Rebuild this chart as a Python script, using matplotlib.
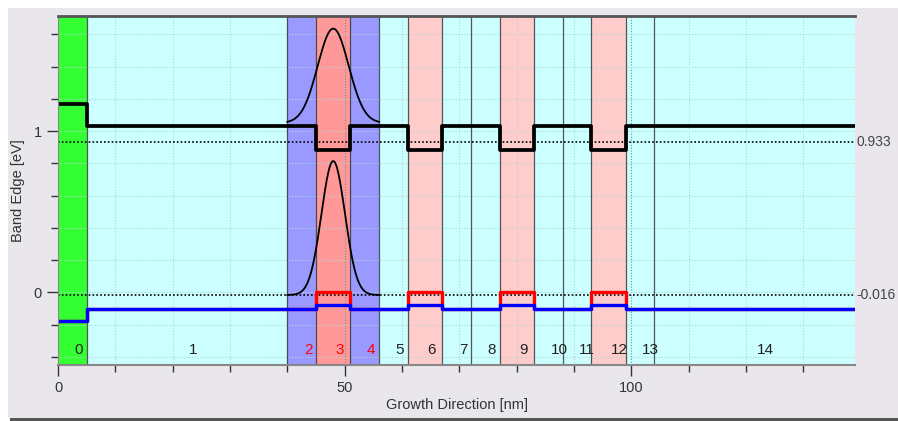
import numpy as np
import matplotlib.pyplot as plt
from matplotlib.patches import Rectangle
from matplotlib.transforms import blended_transform_factory

plt.rcParams['font.family'] = ['Liberation Sans', 'DejaVu Sans']

# Layer structure (nm) and per-layer band edges (eV)
layer_edges = [0, 5, 40, 45, 51, 56, 61, 67, 72, 77, 83, 88, 93, 99, 104, 139]
layer_colors = ['#33ff33', '#ccffff', '#9999ff', '#ff9999', '#9999ff', '#ccffff',
                '#ffcccc', '#ccffff', '#ccffff', '#ffcccc', '#ccffff', '#ccffff',
                '#ffcccc', '#ccffff', '#ccffff']
label_colors = ['#222222', '#222222', 'red', 'red', 'red'] + ['#222222'] * 10
cond_band = [1.17, 1.03, 1.03, 0.88, 1.03, 1.03, 0.88, 1.03, 1.03, 0.88,
             1.03, 1.03, 0.88, 1.03, 1.03]
heavy_hole = [-0.18, -0.10, -0.10, 0.00, -0.10, -0.10, 0.00, -0.10, -0.10, 0.00,
              -0.10, -0.10, 0.00, -0.10, -0.10]
light_hole = [-0.18, -0.10, -0.10, -0.08, -0.10, -0.10, -0.08, -0.10, -0.10, -0.08,
              -0.10, -0.10, -0.08, -0.10, -0.10]

# Quasi-Fermi levels
fermi_levels = [0.933, -0.016]

# Ground-state probability densities in layer 3: (centre, width, peak height, baseline)
psi_range = (40, 56)
electron_psi = (48.0, 2.7, 0.585, 1.05)
hole_psi = (48.0, 2.05, 0.83, -0.016)

fig = plt.figure(figsize=(8.98, 4.21), dpi=100, facecolor='white')
fig.patches.append(Rectangle((8 / 898, 3 / 421), 890 / 898, 410 / 421,
                             transform=fig.transFigure, facecolor='#e9e7ec',
                             edgecolor='none', zorder=-10))
fig.patches.append(Rectangle((10 / 898, 0.5 / 421), 888 / 898, 2.5 / 421,
                             transform=fig.transFigure, facecolor='#555555',
                             edgecolor='none', zorder=-9))

ax = fig.add_axes([58 / 898, (421 - 365) / 421, (855 - 58) / 898, (365 - 15.7) / 421])
ax.set_xlim(layer_edges[0], layer_edges[-1])
ax.set_ylim(-0.45, 1.715)

# layer backgrounds and boundaries
for i, c in enumerate(layer_colors):
    ax.axvspan(layer_edges[i], layer_edges[i + 1], color=c, lw=0, zorder=0)
for x in layer_edges[1:-1]:
    ax.axvline(x, color='#3a3a3a', lw=0.9, alpha=0.85, zorder=3)

# dotted grid
for x in np.arange(10, 139, 10):
    major = x % 50 == 0
    ax.axvline(x, color='#6f8f8f' if major else '#b3d6d6', lw=0.8,
               ls=(0, (1, 1.5)), zorder=2)
for y in np.arange(-0.4, 1.7, 0.2):
    ax.axhline(y, color='#b3d6d6', lw=0.8, ls=(0, (1, 1.5)), zorder=2)

# band edges
ax.step(layer_edges, heavy_hole + [heavy_hole[-1]], where='post', color='red',
        lw=2.4, zorder=5)
ax.step(layer_edges, light_hole + [light_hole[-1]], where='post', color='blue',
        lw=2.4, zorder=6)
ax.step(layer_edges, cond_band + [cond_band[-1]], where='post', color='black',
        lw=2.7, zorder=6)

# Fermi levels
trans = blended_transform_factory(ax.transAxes, ax.transData)
for lev in fermi_levels:
    ax.axhline(lev, color='black', lw=1.2, ls=(0, (1, 1.3)), zorder=4)
    ax.text(1.002, lev, f'{lev:.3f}', transform=trans, ha='left', va='center',
            fontsize=10, color='#444444', clip_on=False)

# wavefunctions
xs = np.linspace(psi_range[0], psi_range[1], 300)
for x0, w, amp, base in (electron_psi, hole_psi):
    ax.plot(xs, base + amp * np.exp(-0.5 * ((xs - x0) / w) ** 2), color='black',
            lw=1.3, zorder=5)

# layer numbers
for i, c in enumerate(label_colors):
    mid = 0.5 * (layer_edges[i] + layer_edges[i + 1])
    ax.text(mid + 0.4, -0.36, str(i), ha='left', va='center', fontsize=11,
            color=c, zorder=7)

# axes styling
ax.set_xticks([0, 50, 100])
ax.set_xticks(np.arange(0, 139, 10), minor=True)
ax.set_yticks([0, 1])
ax.set_yticks(np.arange(-0.4, 1.7, 0.2), minor=True)
ax.tick_params(which='major', length=8, width=1, color='#333333', labelsize=10.5,
               labelcolor='#333333')
ax.tick_params(which='minor', length=5, width=1, color='#333333')
ax.spines['right'].set_visible(False)
ax.spines['top'].set_color('#555555')
ax.spines['top'].set_linewidth(2)
ax.spines['bottom'].set_color('#888888')
ax.spines['bottom'].set_linewidth(1.5)
ax.spines['left'].set_color('#888888')
for s in ('top', 'bottom', 'left'):
    ax.spines[s].set_zorder(8)

ax.set_xlabel('Growth Direction [nm]', fontsize=10.5, color='#333333', labelpad=2)
ax.set_ylabel('Band Edge [eV]', fontsize=10.5, color='#333333', labelpad=6)

fig.savefig('out.png', dpi=100, facecolor=fig.get_facecolor())
